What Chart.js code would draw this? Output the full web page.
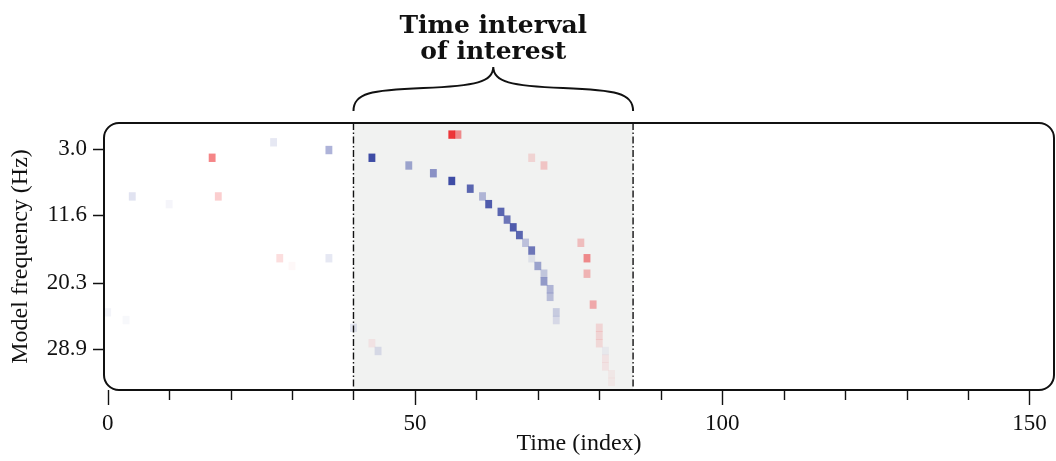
<!DOCTYPE html>
<html>
<head>
<meta charset="utf-8">
<script src="https://cdn.jsdelivr.net/npm/chart.js@4.4.1/dist/chart.umd.min.js"></script>
<style>
  html, body { margin: 0; padding: 0; background: #fff; }
</style>
</head>
<body>
<canvas id="chart" width="1056" height="461"></canvas>
<script>
// one cell per detected component: time index, model frequency (Hz), weight (<0 blue, >0 red)
const cellTime = [0, 3, 4, 10, 17, 18, 27, 28, 30, 36, 36,
  40, 43, 43, 44, 49, 53, 56, 57, 56, 59, 61, 62, 64, 65, 66, 67, 68, 69, 69, 70, 71, 71, 72, 72, 73, 73,
  69, 71, 77, 78, 78, 79, 80, 80, 80, 81, 81, 81, 82, 82];
const cellFreq = [24.15, 25.15, 9.15, 10.15, 4.15, 9.15, 2.15, 17.15, 18.15, 3.15, 17.15,
  26.15, 4.15, 28.15, 29.15, 5.15, 6.15, 1.15, 1.15, 7.15, 8.15, 9.15, 10.15, 11.15, 12.15, 13.15, 14.15, 15.15, 16.15, 17.15, 18.15, 19.15, 20.15, 21.15, 22.15, 24.15, 25.15,
  4.15, 5.15, 15.15, 17.15, 19.15, 23.15, 26.15, 27.15, 28.15, 29.15, 30.15, 31.15, 32.15, 33.15];
const cellWeight = [-0.06, -0.04, -0.15, -0.05, 0.55, 0.22, -0.12, 0.15, 0.03, -0.4, -0.12,
  -0.12, -0.95, 0.07, -0.15, -0.45, -0.55, 0.9, 0.5, -0.95, -0.8, -0.35, -0.85, -0.8, -0.7, -0.85, -0.8, -0.28, -0.7, -0.1, -0.45, -0.25, -0.5, -0.35, -0.3, -0.22, -0.14,
  0.15, 0.22, 0.25, 0.5, 0.3, 0.35, 0.14, 0.14, 0.12, -0.05, 0.07, 0.07, 0.05, 0.05];

const freqTicks = [3.0, 11.6, 20.3, 28.9];
const timeMajorTicks = [0, 50, 100, 150];
const timeMinorTicks = [10, 20, 30, 40, 60, 70, 80, 90, 110, 120, 130, 140];
const interval = [40, 85.5];
const titleLines = ["Time interval", "of interest"];

const CELL_H = 1.0; // Hz
const serif = "'Liberation Serif', 'Times New Roman', serif";

function cellColor(w) {
  const a = Math.min(1, Math.abs(w));
  return w < 0 ? "rgba(52,66,160," + a + ")" : "rgba(236,32,36," + a + ")";
}

const cells = cellTime.map(function (t, i) {
  return { x: t, y: [cellFreq[i] - CELL_H / 2, cellFreq[i] + CELL_H / 2] };
});
const colors = cellWeight.map(cellColor);

const decor = {
  id: "decor",
  beforeDatasetsDraw: function (chart) {
    const ctx = chart.ctx, a = chart.chartArea, x = chart.scales.x;
    ctx.save();
    ctx.fillStyle = "#f1f2f1";
    const x0 = x.getPixelForValue(interval[0]), x1 = x.getPixelForValue(interval[1]);
    ctx.fillRect(x0, a.top, x1 - x0, a.bottom - a.top);
    ctx.restore();
  },
  afterDatasetsDraw: function (chart) {
    const ctx = chart.ctx, a = chart.chartArea, x = chart.scales.x, y = chart.scales.y;
    ctx.save();
    // dash-dot bounds
    ctx.strokeStyle = "#111";
    ctx.lineWidth = 1.4;
    ctx.setLineDash([7, 2.5, 1.5, 2.5]);
    interval.forEach(function (v) {
      const px = x.getPixelForValue(v);
      ctx.beginPath();
      ctx.moveTo(px, a.top);
      ctx.lineTo(px, a.bottom);
      ctx.stroke();
    });
    ctx.setLineDash([]);
    // rounded frame
    ctx.lineWidth = 2;
    ctx.beginPath();
    ctx.roundRect(a.left, a.top, a.right - a.left, a.bottom - a.top, 15);
    ctx.stroke();

    // ticks
    ctx.lineWidth = 1.4;
    ctx.beginPath();
    freqTicks.forEach(function (v) {
      const py = Math.round(y.getPixelForValue(v)) + 0.5;
      ctx.moveTo(a.left - 11, py);
      ctx.lineTo(a.left, py);
    });
    timeMajorTicks.forEach(function (v) {
      const px = Math.round(x.getPixelForValue(v)) + 0.5;
      ctx.moveTo(px, a.bottom);
      ctx.lineTo(px, a.bottom + 15);
    });
    timeMinorTicks.forEach(function (v) {
      const px = Math.round(x.getPixelForValue(v)) + 0.5;
      ctx.moveTo(px, a.bottom);
      ctx.lineTo(px, a.bottom + 10);
    });
    ctx.stroke();

    // brace + title above the interval
    const x0 = x.getPixelForValue(interval[0]), x1 = x.getPixelForValue(interval[1]);
    const xc = (x0 + x1) / 2, yb = a.top - 12, ym = a.top - 33, yt = a.top - 56;
    const q = (xc - x0) / 2;
    ctx.lineWidth = 2;
    ctx.beginPath();
    ctx.moveTo(x0, yb);
    ctx.bezierCurveTo(x0, ym + 3, x0 + q * 0.25, ym, x0 + q, ym - 2);
    ctx.bezierCurveTo(xc - q * 0.25, ym - 4, xc, ym - 8, xc, yt);
    ctx.bezierCurveTo(xc, ym - 8, xc + q * 0.25, ym - 4, x1 - q, ym - 2);
    ctx.bezierCurveTo(x1 - q * 0.25, ym, x1, ym + 3, x1, yb);
    ctx.stroke();

    ctx.fillStyle = "#111";
    ctx.font = "bold 25px 'DejaVu Serif', serif";
    ctx.textAlign = "center";
    ctx.textBaseline = "alphabetic";
    ctx.fillText(titleLines[0], xc, 33);
    ctx.fillText(titleLines[1], xc, 59);
    ctx.restore();
  }
};

function noPad(s) {
  s.paddingLeft = 0; s.paddingRight = 0; s.paddingTop = 0; s.paddingBottom = 0;
}

new Chart(document.getElementById("chart"), {
  type: "bar",
  data: {
    datasets: [{
      data: cells,
      backgroundColor: colors,
      borderWidth: 0,
      barThickness: 6.2,
      grouped: false
    }]
  },
  options: {
    responsive: false,
    animation: false,
    layout: { padding: { top: 123, right: 2, left: 0, bottom: 0 } },
    plugins: { legend: { display: false }, tooltip: { enabled: false } },
    scales: {
      x: {
        type: "linear",
        min: -0.6,
        max: 154,
        offset: false,
        grid: { display: false, drawTicks: false },
        border: { display: false },
        afterBuildTicks: function (s) { s.ticks = timeMajorTicks.map(function (v) { return { value: v }; }); },
        afterFit: function (s) { s.height = 71; noPad(s); },
        ticks: { padding: 20, maxRotation: 0, autoSkip: false, color: "#111", font: { family: serif, size: 23 } },
        title: { display: true, text: "Time (index)", color: "#111", font: { family: serif, size: 24 }, padding: { top: 0, bottom: 3 } }
      },
      y: {
        type: "linear",
        reverse: true,
        min: -0.35,
        max: 34.2,
        grid: { display: false, drawTicks: false },
        border: { display: false },
        afterBuildTicks: function (s) { s.ticks = freqTicks.map(function (v) { return { value: v }; }); },
        afterFit: function (s) { s.width = 104; noPad(s); },
        ticks: {
          padding: 17, color: "#111", font: { family: serif, size: 23 },
          callback: function (v) { return Number(v).toFixed(1); }
        },
        title: { display: true, text: "Model frequency (Hz)", color: "#111", font: { family: serif, size: 24 }, padding: { top: 6, bottom: 0 } }
      }
    }
  },
  plugins: [decor]
});
</script>
</body>
</html>
